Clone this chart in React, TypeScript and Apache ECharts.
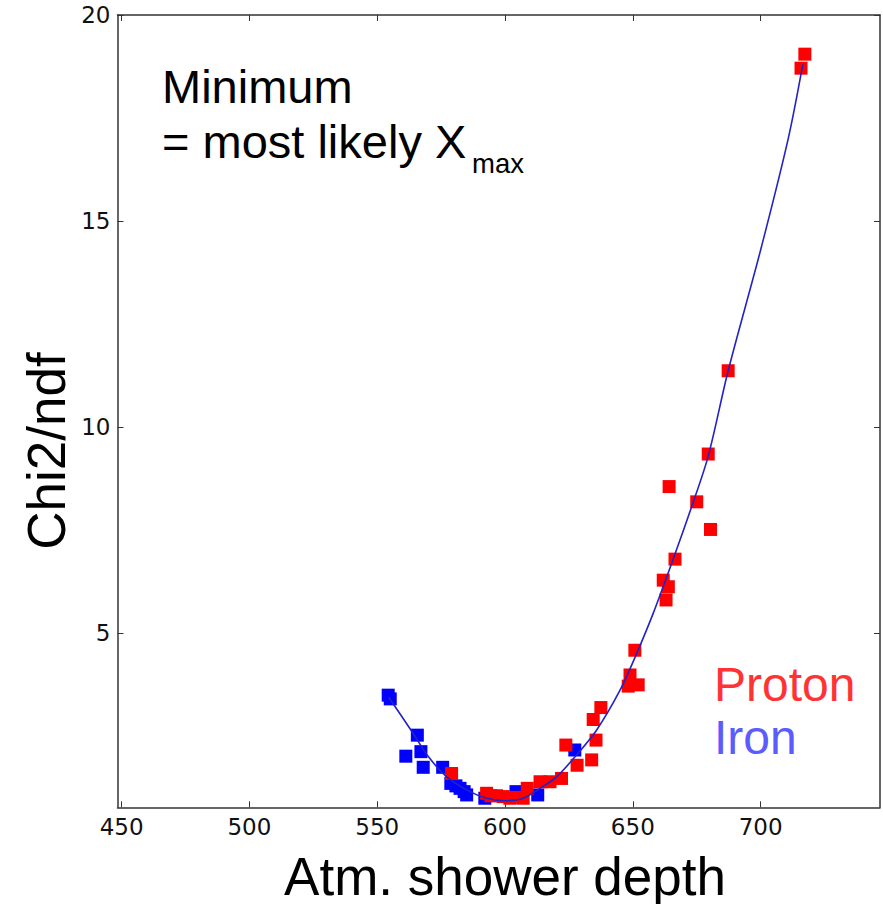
import React, { useEffect, useRef } from "react";
import * as echarts from "echarts";

const xTicks = [450, 500, 550, 600, 650, 700];
const yTicks = [5, 10, 15, 20];

const ironPoints: [number, number][] = [
  [554.3, 3.5], [555.1, 3.41], [565.7, 2.53], [561.2, 2.02], [567.1, 2.13],
  [568.0, 1.75], [575.6, 1.75], [578.8, 1.36], [580.8, 1.3], [582.4, 1.24],
  [584.0, 1.16], [585.0, 1.08], [592.1, 1.0], [604.3, 1.16], [612.8, 1.08],
  [627.3, 2.17],
];

const protonPoints: [number, number][] = [
  [579.1, 1.6], [592.8, 1.12], [594.5, 1.06], [596.7, 1.06], [599.3, 1.04],
  [601.9, 1.0], [604.5, 1.02], [607.1, 1.0], [608.7, 1.24], [613.7, 1.4],
  [617.6, 1.4], [622.1, 1.48], [623.8, 2.29], [628.2, 1.8], [633.9, 1.93],
  [634.5, 2.91], [635.6, 2.41], [637.5, 3.2], [648.2, 3.72], [648.9, 3.99],
  [650.8, 4.59], [652.1, 3.75], [661.9, 6.29], [663.0, 5.81], [663.9, 6.13],
  [664.2, 8.56], [666.5, 6.8], [675.0, 8.19], [679.5, 9.35], [680.4, 7.52],
  [687.3, 11.37], [715.8, 18.71], [717.3, 19.05],
];

const fitCurve: [number, number][] = [
  [554.5, 3.45], [564.1, 2.57], [570.0, 2.01], [577.2, 1.52], [586.3, 1.16],
  [592.8, 1.0], [600.0, 0.94], [607.1, 1.0], [613.7, 1.24], [620.2, 1.52],
  [628.0, 2.05], [635.8, 2.65], [645.0, 3.62], [651.5, 4.51], [658.0, 5.49],
  [665.2, 6.7], [673.0, 8.07], [679.5, 9.3], [687.3, 11.37], [700.0, 14.3],
  [710.8, 17.0], [716.5, 18.8],
];

export default function App() {
  const ref = useRef<HTMLDivElement>(null);

  useEffect(() => {
    const chart = echarts.init(ref.current!, null, { renderer: "svg" });
    const lineStyle = { color: "#333333", width: 1.5 };
    const tickStyle = { color: "#333333", width: 1 };
    const tickLabel = { fontFamily: "DejaVu Sans", fontSize: 23, color: "#111111" };
    const xRange = { min: 448.4, max: 746.7 };
    const yRange = { min: 0.78, max: 20 };
    const textFont = "Liberation Sans";

    chart.setOption({
      animation: false,
      grid: { left: 117.5, right: 3, top: 15, bottom: 96.7, containLabel: false },
      xAxis: [
        {
          type: "value", ...xRange, position: "bottom",
          splitLine: { show: false },
          axisLine: { show: true, onZero: false, lineStyle },
          axisTick: { show: true, inside: true, length: 6, customValues: xTicks, lineStyle: tickStyle },
          axisLabel: { show: true, customValues: xTicks, margin: 8, ...tickLabel },
        },
        {
          type: "value", ...xRange, position: "top",
          splitLine: { show: false },
          axisLine: { show: true, onZero: false, lineStyle },
          axisTick: { show: true, inside: true, length: 6, customValues: xTicks, lineStyle: tickStyle },
          axisLabel: { show: false },
        },
      ],
      yAxis: [
        {
          type: "value", ...yRange, position: "left",
          splitLine: { show: false },
          axisLine: { show: true, onZero: false, lineStyle },
          axisTick: { show: true, inside: true, length: 6, customValues: yTicks, lineStyle: tickStyle },
          axisLabel: { show: true, customValues: yTicks, margin: 7, ...tickLabel },
        },
        {
          type: "value", ...yRange, position: "right",
          splitLine: { show: false },
          axisLine: { show: true, onZero: false, lineStyle },
          axisTick: { show: true, inside: true, length: 6, customValues: yTicks, lineStyle: tickStyle },
          axisLabel: { show: false },
        },
      ],
      series: [
        {
          name: "Iron", type: "scatter", xAxisIndex: 0, yAxisIndex: 0,
          symbol: "rect", symbolSize: 13, data: ironPoints,
          itemStyle: { color: "#0000ff", opacity: 1 }, z: 2,
        },
        {
          name: "Proton", type: "scatter", xAxisIndex: 0, yAxisIndex: 0,
          symbol: "rect", symbolSize: 13, data: protonPoints,
          itemStyle: { color: "#ff0000", opacity: 1 }, z: 3,
        },
        {
          name: "Fit", type: "line", xAxisIndex: 0, yAxisIndex: 0,
          data: fitCurve, smooth: 0.3, showSymbol: false, symbol: "none",
          lineStyle: { color: "#2222c8", width: 1.6 }, z: 4,
        },
      ],
      graphic: [
        { type: "text", x: 162, y: 86, style: { text: "Minimum", fontFamily: textFont, fontSize: 47, fill: "#000", align: "left", verticalAlign: "middle" } },
        { type: "text", x: 162, y: 141, style: { text: "= most likely X", fontFamily: textFont, fontSize: 47, fill: "#000", align: "left", verticalAlign: "middle" } },
        { type: "text", x: 472, y: 163, style: { text: "max", fontFamily: textFont, fontSize: 27.5, fill: "#000", align: "left", verticalAlign: "middle" } },
        { type: "text", x: 714, y: 684, style: { text: "Proton", fontFamily: textFont, fontSize: 48, fill: "#ff3333", align: "left", verticalAlign: "middle" } },
        { type: "text", x: 714, y: 737, style: { text: "Iron", fontFamily: textFont, fontSize: 48, fill: "#5b5bff", align: "left", verticalAlign: "middle" } },
        { type: "text", x: 505, y: 876, style: { text: "Atm. shower depth", fontFamily: textFont, fontSize: 53, fill: "#000", align: "center", verticalAlign: "middle" } },
        { type: "text", x: 46, y: 451, rotation: Math.PI / 2, style: { text: "Chi2/ndf", fontFamily: textFont, fontSize: 53, fill: "#000", align: "center", verticalAlign: "middle" } },
      ],
    });

    return () => chart.dispose();
  }, []);

  return (
    <div
      ref={ref}
      style={{ position: "absolute", left: 0, top: 0, width: 883, height: 904 }}
    />
  );
}
